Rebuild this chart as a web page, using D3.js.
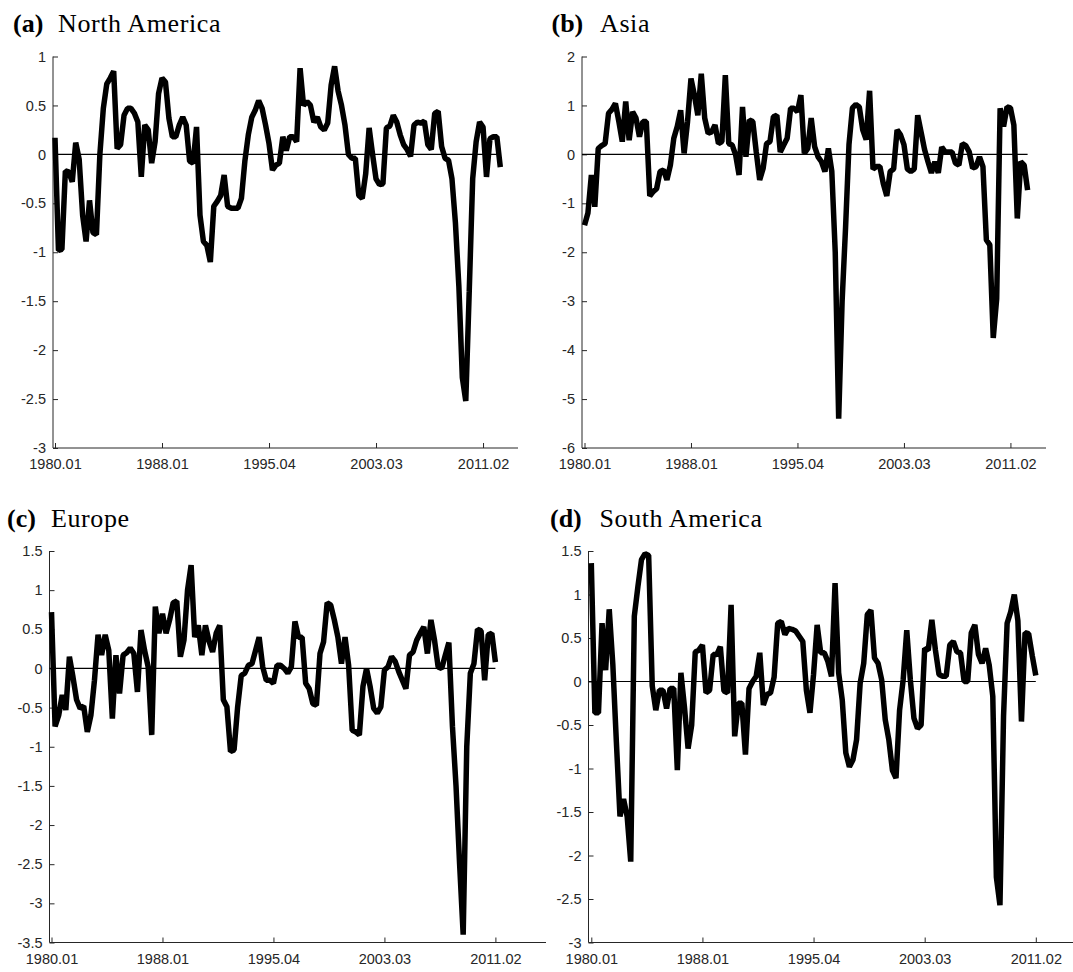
<!DOCTYPE html>
<html>
<head>
<meta charset="utf-8">
<script src="https://cdn.jsdelivr.net/npm/d3@7"></script>
<style>
  body { margin: 0; background: #fff; }
  svg { display: block; }
</style>
</head>
<body>
<div id="chart"></div>
<script>
// x tick labels and the quarter index each one sits on
var tickLabels = ["1980.01", "1988.01", "1995.04", "2003.03", "2011.02"];
var tickIndex = [0, 31, 62, 93, 124];

// quarterly series
var northAmerica = [0.17,-0.98,-0.97,-0.17,-0.18,-0.28,0.12,-0.05,-0.62,-0.89,
  -0.47,-0.8,-0.82,0.0,0.47,0.72,0.78,0.85,0.06,0.1,
  0.4,0.47,0.47,0.42,0.33,-0.23,0.3,0.25,-0.09,0.13,
  0.62,0.78,0.74,0.37,0.18,0.18,0.3,0.38,0.3,-0.07,
  -0.09,0.28,-0.62,-0.89,-0.93,-1.1,-0.53,-0.48,-0.42,-0.21,
  -0.53,-0.55,-0.55,-0.55,-0.45,-0.07,0.2,0.38,0.45,0.55,
  0.47,0.3,0.11,-0.16,-0.11,-0.09,0.18,0.04,0.18,0.18,
  0.13,0.88,0.5,0.54,0.5,0.33,0.38,0.28,0.25,0.32,
  0.71,0.9,0.65,0.5,0.3,0.0,-0.04,-0.04,-0.42,-0.45,
  -0.2,0.27,0.0,-0.25,-0.31,-0.3,0.27,0.29,0.4,0.33,
  0.2,0.1,0.05,-0.02,0.3,0.33,0.32,0.34,0.1,0.05,
  0.42,0.44,0.08,-0.04,-0.06,-0.25,-0.7,-1.35,-2.28,-2.52,
  -1.4,-0.25,0.13,0.33,0.28,-0.23,0.16,0.18,0.18,-0.13];

var asia = [-1.45,-1.2,-0.42,-1.07,0.12,0.18,0.22,0.84,0.92,1.04,
  0.67,0.26,1.08,0.29,0.87,0.74,0.36,0.67,0.67,-0.85,
  -0.76,-0.7,-0.35,-0.32,-0.52,-0.22,0.33,0.57,0.9,0.02,
  0.67,1.55,1.21,0.8,1.65,0.74,0.43,0.46,0.6,0.22,
  0.26,1.62,0.22,0.19,-0.01,-0.42,0.97,-0.05,0.7,0.67,
  0.05,-0.52,-0.29,0.22,0.26,0.77,0.8,0.05,0.19,0.33,
  0.94,0.94,0.87,1.21,0.02,0.12,0.74,0.16,-0.05,-0.15,
  -0.35,0.12,-0.35,-2.0,-5.4,-3.0,-1.5,0.2,0.95,1.02,
  0.97,0.5,0.3,1.3,-0.3,-0.25,-0.25,-0.6,-0.85,-0.35,
  -0.3,0.5,0.4,0.2,-0.3,-0.35,-0.3,0.8,0.45,0.1,
  -0.15,-0.38,-0.15,-0.38,0.15,0.05,0.05,0.05,-0.18,-0.22,
  0.22,0.18,0.05,-0.28,-0.25,-0.05,-0.25,-1.75,-1.85,-3.75,
  -2.95,0.94,0.57,0.97,0.95,0.6,-1.31,-0.15,-0.22,-0.73];

var europe = [0.72,-0.74,-0.6,-0.34,-0.53,0.15,-0.11,-0.4,-0.51,-0.48,
  -0.81,-0.6,-0.15,0.43,0.17,0.43,0.23,-0.64,0.17,-0.32,
  0.17,0.2,0.26,0.19,-0.3,0.49,0.23,0.02,-0.85,0.79,
  0.45,0.7,0.45,0.62,0.84,0.86,0.15,0.36,1.0,1.32,
  0.4,0.55,0.17,0.55,0.35,0.21,0.45,0.55,-0.4,-0.49,
  -1.06,-1.04,-0.49,-0.09,-0.06,0.04,0.06,0.23,0.4,0.02,
  -0.15,-0.15,-0.19,0.04,0.04,0.0,-0.06,0.02,0.6,0.4,
  0.4,-0.19,-0.26,-0.45,-0.47,0.19,0.34,0.84,0.81,0.62,
  0.4,0.06,0.4,0.04,-0.79,-0.81,-0.85,-0.23,0.0,-0.23,
  -0.51,-0.57,-0.49,-0.02,0.02,0.15,0.09,-0.04,-0.15,-0.26,
  0.17,0.21,0.36,0.45,0.53,0.19,0.62,0.36,0.02,0.0,
  0.17,0.33,-0.74,-1.5,-2.5,-3.4,-1.0,-0.06,0.06,0.5,
  0.48,-0.15,0.43,0.45,0.08];

var southAmerica = [1.36,-0.36,-0.36,0.67,0.13,0.83,0.2,-0.7,-1.55,-1.35,
  -1.55,-2.07,0.75,1.09,1.4,1.47,1.45,-0.05,-0.33,-0.1,
  -0.1,-0.31,-0.08,-0.08,-1.02,0.1,-0.3,-0.77,-0.5,0.34,
  0.36,0.42,-0.13,-0.1,0.31,0.31,0.4,-0.11,-0.13,0.88,
  -0.63,-0.25,-0.25,-0.84,-0.08,0.0,0.06,0.33,-0.27,-0.15,
  -0.13,0.05,0.67,0.69,0.54,0.61,0.6,0.58,0.52,0.46,
  -0.1,-0.36,0.08,0.65,0.33,0.33,0.23,0.06,1.13,0.1,
  -0.21,-0.82,-0.98,-0.9,-0.67,-0.02,0.21,0.77,0.82,0.27,
  0.21,0.02,-0.44,-0.67,-1.02,-1.11,-0.33,0.02,0.59,0.02,
  -0.42,-0.54,-0.5,0.38,0.36,0.71,0.36,0.08,0.06,0.06,
  0.42,0.46,0.34,0.33,0.0,0.0,0.56,0.65,0.31,0.21,
  0.38,0.19,-0.17,-2.25,-2.57,-0.4,0.67,0.8,1.0,0.7,
  -0.46,0.56,0.55,0.3,0.07];

// y ranges of each panel
var yRangeA = [-3, 1], yRangeB = [-6, 2], yRangeC = [-3.5, 1.5], yRangeD = [-3, 1.5];
var yStepA = 0.5, yStepB = 1, yStepC = 0.5, yStepD = 0.5;

var W = 1073, H = 972;
var svg = d3.select("#chart").append("svg")
  .attr("width", W).attr("height", H)
  .attr("viewBox", "0 0 " + W + " " + H);

// panel layout: axis box, first / last data x, title place
var panels = [
  {tag: "(a)", name: "North America", data: northAmerica, yr: yRangeA, step: yStepA,
   left: 53, right: 518, top: 56.5, bottom: 448, x0: 55, x1: 500.3, tagX: 13, nameX: 58, titleY: 32},
  {tag: "(b)", name: "Asia", data: asia, yr: yRangeB, step: yStepB,
   left: 582, right: 1046, top: 56.5, bottom: 448, x0: 584.5, x1: 1027.6, tagX: 551.5, nameX: 600, titleY: 32},
  {tag: "(c)", name: "Europe", data: europe, yr: yRangeC, step: yStepC,
   left: 49.5, right: 546, top: 551, bottom: 942.5, x0: 51.5, x1: 495.4, tagX: 7, nameX: 51, titleY: 527},
  {tag: "(d)", name: "South America", data: southAmerica, yr: yRangeD, step: yStepD,
   left: 588.5, right: 1073, top: 551, bottom: 942.5, x0: 591.3, x1: 1035.8, tagX: 550, nameX: 599.5, titleY: 527}
];

var axisColor = "#262626";

panels.forEach(function(p) {
  var n = p.data.length;
  var x = d3.scaleLinear().domain([0, n - 1]).range([p.x0, p.x1]);
  var y = d3.scaleLinear().domain(p.yr).range([p.bottom, p.top]);
  var g = svg.append("g");

  // title
  g.append("text").attr("x", p.tagX).attr("y", p.titleY)
    .style("font-family", "'Liberation Serif', 'Times New Roman', serif")
    .style("font-size", "26px").style("font-weight", "bold")
    .text(p.tag);
  g.append("text").attr("x", p.nameX).attr("y", p.titleY)
    .style("font-family", "'Liberation Serif', 'Times New Roman', serif")
    .style("font-size", "26px").style("letter-spacing", "0.6px")
    .text(p.name);

  // x axis, ticks pointing in
  var xAxis = d3.axisBottom(x).tickValues(tickIndex)
    .tickFormat(function(d, i) { return tickLabels[i]; })
    .tickSizeInner(-5).tickSizeOuter(0).tickPadding(11);
  var gx = g.append("g").attr("transform", "translate(0," + p.bottom + ")").call(xAxis);
  gx.select(".domain").remove();

  var yTicks = d3.range(p.yr[0], p.yr[1] + p.step / 2, p.step);
  var yAxis = d3.axisLeft(y).tickValues(yTicks)
    .tickFormat(function(d) { return String(+d.toFixed(1)); })
    .tickSizeInner(-5).tickSizeOuter(0).tickPadding(7);
  var gy = g.append("g").attr("transform", "translate(" + p.left + ",0)").call(yAxis);
  gy.select(".domain").remove();

  [gx, gy].forEach(function(a) {
    a.selectAll("line").attr("stroke", axisColor);
    a.selectAll("text").attr("fill", axisColor)
      .style("font-family", "'Liberation Sans', Arial, sans-serif")
      .style("font-size", "14.5px");
  });

  // axis lines (no box)
  g.append("line").attr("x1", p.left).attr("x2", p.right)
    .attr("y1", p.bottom).attr("y2", p.bottom)
    .attr("stroke", axisColor).attr("stroke-width", 1);
  g.append("line").attr("x1", p.left).attr("x2", p.left)
    .attr("y1", p.top).attr("y2", p.bottom)
    .attr("stroke", axisColor).attr("stroke-width", 1);

  // zero line
  g.append("line").attr("x1", p.left).attr("x2", x(n - 1))
    .attr("y1", y(0)).attr("y2", y(0))
    .attr("stroke", "#000").attr("stroke-width", 1.2);

  // series
  var line = d3.line().x(function(d, i) { return x(i); }).y(function(d) { return y(d); });
  g.append("path").datum(p.data).attr("d", line)
    .attr("fill", "none").attr("stroke", "#000")
    .attr("stroke-width", 5.5).attr("stroke-linejoin", "bevel");
});
</script>
</body>
</html>
